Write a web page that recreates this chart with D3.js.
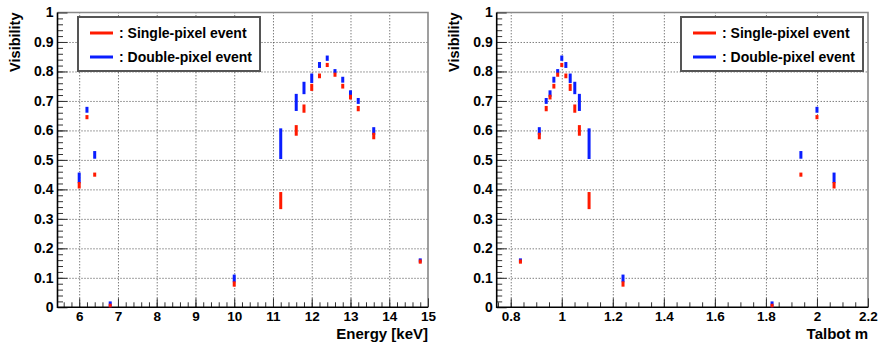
<!DOCTYPE html>
<html>
<head>
<meta charset="utf-8">
<script src="https://cdn.jsdelivr.net/npm/d3@7"></script>
<style>
  body { margin: 0; background: #fff; }
  svg text { font-family: "Liberation Sans", Arial, Helvetica, sans-serif; font-weight: bold; fill: #000; }
  .grid line { stroke: #444; stroke-dasharray: 1,2; }
  .grid path { display: none; }
  .ax path { display: none; }
  .ax line { stroke: #333; }
</style>
</head>
<body>
<div id="chart"></div>
<script>
// measured points (energy in keV, the same points as Talbot order m)
const energy  = [6.0, 6.2, 6.4, 6.8, 10.0, 11.2, 11.6, 11.8, 12.0, 12.2, 12.4, 12.6, 12.8, 13.0, 13.2, 13.6, 14.8];
const talbotM = [2.067, 2.0, 1.937, 1.824, 1.24, 1.107, 1.069, 1.051, 1.033, 1.016, 1.0, 0.984, 0.969, 0.954, 0.939, 0.912, 0.838];

// visibility, single-pixel events (red)
const singleVis = [0.414, 0.645, 0.450, 0.006, 0.079, 0.362, 0.600, 0.674, 0.746, 0.785, 0.822, 0.789, 0.750, 0.713, 0.674, 0.581, 0.155];
const singleErr = [0.011, 0.007, 0.007, 0.006, 0.009, 0.029, 0.018, 0.014, 0.012, 0.008, 0.007, 0.007, 0.008, 0.008, 0.009, 0.011, 0.007];
// visibility, double-pixel events (blue)
const doubleVis = [0.439, 0.670, 0.517, 0.010, 0.098, 0.555, 0.695, 0.744, 0.777, 0.822, 0.845, 0.801, 0.772, 0.725, 0.700, 0.598, 0.159];
const doubleErr = [0.018, 0.010, 0.013, 0.010, 0.013, 0.052, 0.029, 0.021, 0.016, 0.010, 0.009, 0.007, 0.010, 0.011, 0.010, 0.013, 0.007];

// tick labels
const energyTicks = [6, 7, 8, 9, 10, 11, 12, 13, 14, 15];
const talbotTicks = [0.8, 1, 1.2, 1.4, 1.6, 1.8, 2, 2.2];
const visTicks = [0, 0.1, 0.2, 0.3, 0.4, 0.5, 0.6, 0.7, 0.8, 0.9, 1];

const legendLabels = [": Single-pixel event", ": Double-pixel event"];
const RED = "#ff1a00", BLUE = "#0a1eff";

const W = 886, H = 354;
const plotTop = 12.5, plotBottom = 307.3;

const svg = d3.select("#chart").append("svg")
  .attr("width", W).attr("height", H);

function panel(cfg) {
  const x = d3.scaleLinear().domain(cfg.domain).range([cfg.left, cfg.right]);
  const y = d3.scaleLinear().domain([0, 1]).range([plotBottom, plotTop]);
  const g = svg.append("g");
  const h = plotBottom - plotTop, w = cfg.right - cfg.left;

  // dotted grid
  g.append("g").attr("class", "grid")
    .attr("transform", "translate(0," + plotBottom + ")")
    .call(d3.axisBottom(x).tickValues(cfg.ticks.filter(d => d < cfg.domain[1])).tickSize(-h).tickFormat(""));
  g.append("g").attr("class", "grid")
    .attr("transform", "translate(" + cfg.left + ",0)")
    .call(d3.axisLeft(y).tickValues(visTicks.filter(d => d > 0 && d < 1)).tickSize(-w).tickFormat(""));

  // frame top/right
  g.append("path")
    .attr("d", "M" + cfg.left + "," + plotTop + "H" + cfg.right + "V" + plotBottom)
    .attr("fill", "none").attr("stroke", "#888").attr("stroke-width", 1.6);

  // minor ticks
  g.append("g").attr("class", "ax")
    .attr("transform", "translate(0," + plotBottom + ")")
    .call(d3.axisBottom(x).tickValues(cfg.minor).tickSize(-5).tickFormat(""));
  g.append("g").attr("class", "ax")
    .attr("transform", "translate(" + cfg.left + ",0)")
    .call(d3.axisLeft(y).tickValues(d3.range(0.02, 1, 0.02)).tickSize(-5.5).tickFormat(""));

  // major ticks + labels
  const xa = g.append("g").attr("class", "ax")
    .attr("transform", "translate(0," + plotBottom + ")")
    .call(d3.axisBottom(x).tickValues(cfg.ticks).tickSize(-9).tickPadding(4.5).tickFormat(d3.format("~g")));
  xa.selectAll("text").style("font-size", "13.5px");
  const ya = g.append("g").attr("class", "ax")
    .attr("transform", "translate(" + cfg.left + ",0)")
    .call(d3.axisLeft(y).tickValues(visTicks).tickSize(-10).tickPadding(4).tickFormat(d3.format("~g")));
  ya.selectAll("text").style("font-size", "14px");

  // axis lines
  g.append("path")
    .attr("d", "M" + cfg.left + "," + plotTop + "V" + plotBottom + "H" + cfg.right)
    .attr("fill", "none").attr("stroke", "#000").attr("stroke-width", 1.6);

  // titles
  g.append("text")
    .attr("transform", "translate(" + cfg.ytitleX + "," + plotTop + ") rotate(-90)")
    .attr("text-anchor", "end").style("font-size", "14.5px")
    .text("Visibility");
  g.append("text")
    .attr("x", cfg.right).attr("y", 338.5)
    .attr("text-anchor", "end").style("font-size", "15px")
    .text(cfg.xtitle);

  // error bars: blue first, red on top
  const series = [
    {vis: doubleVis, err: doubleErr, color: BLUE},
    {vis: singleVis, err: singleErr, color: RED}
  ];
  series.forEach(function(s) {
    g.append("g").selectAll("rect")
      .data(cfg.xs)
      .enter()
      .append("rect")
      .attr("x", d => x(d) - 1.5)
      .attr("width", 3)
      .attr("y", (d, i) => y(Math.min(1, s.vis[i] + s.err[i])))
      .attr("height", (d, i) => y(Math.max(0, s.vis[i] - s.err[i])) - y(Math.min(1, s.vis[i] + s.err[i])))
      .attr("fill", s.color);
  });

  // legend
  const lg = g.append("g").attr("transform", "translate(" + cfg.legendX + ",17)");
  lg.append("rect")
    .attr("width", 182).attr("height", 54)
    .attr("fill", "#fff").attr("stroke", "#555").attr("stroke-width", 2);
  [RED, BLUE].forEach(function(c, i) {
    const ly = 16 + i * 24;
    lg.append("line")
      .attr("x1", 12).attr("x2", 35).attr("y1", ly).attr("y2", ly)
      .attr("stroke", c).attr("stroke-width", 3);
    lg.append("text")
      .attr("x", 41).attr("y", ly + 5)
      .style("font-size", "14px")
      .text(legendLabels[i]);
  });
}

panel({
  left: 57.5, right: 428, domain: [5.44, 15],
  ticks: energyTicks, minor: d3.range(5.6, 15, 0.2),
  xs: energy, xtitle: "Energy [keV]", ytitleX: 19.5, legendX: 78
});
panel({
  left: 496.7, right: 868, domain: [0.745, 2.2],
  ticks: talbotTicks, minor: d3.range(0.75, 2.2, 0.05),
  xs: talbotM, xtitle: "Talbot m", ytitleX: 458.5, legendX: 681
});
</script>
</body>
</html>
